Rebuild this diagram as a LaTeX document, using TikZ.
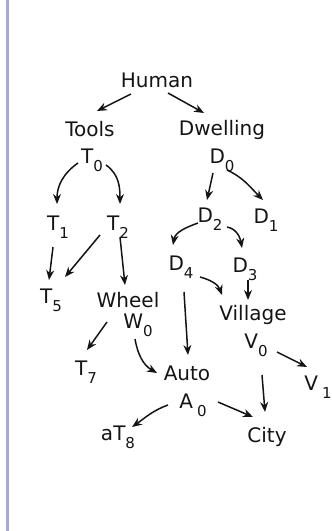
\documentclass[tikz,border=0pt]{standalone}
\usepackage{fontspec}
\setmainfont{DejaVu Sans}
\usetikzlibrary{arrows.meta}
\definecolor{marginblue}{RGB}{168,168,214}
\definecolor{inkgray}{RGB}{20,20,20}
\newcommand{\subidx}[1]{\raisebox{-8pt}{\fontsize{15}{15}\selectfont #1}}

\begin{document}
\begin{tikzpicture}[x=1pt, y=-1pt, >={Stealth[length=10pt,width=8pt]},
    lbl/.style={anchor=base, inner sep=0pt, text=inkgray, font=\fontsize{20}{24}\selectfont},
    link/.style={->, draw=inkgray, line width=1.5pt}]
  \useasboundingbox (0,0) rectangle (332,531);
  \fill[marginblue] (6,0) rectangle (9,531);
  % labels
  \node[lbl] (Human) at (157,87) {Human};
  \node[lbl] (Tools) at (90,136) {Tools};
  \node[lbl] (Dwelling) at (222,135) {Dwelling};
  \node[lbl] (T0) at (92,163) {T\subidx{0}};
  \node[lbl] (D0) at (222,163) {D\subidx{0}};
  \node[lbl] (T1) at (58,230) {T\subidx{1}};
  \node[lbl] (T2) at (118,230) {T\subidx{2}};
  \node[lbl] (D2) at (210,222) {D\subidx{2}};
  \node[lbl] (D1) at (266,223) {D\subidx{1}};
  \node[lbl] (D4) at (181,270) {D\subidx{4}};
  \node[lbl] (D3) at (245,272) {D\subidx{3}};
  \node[lbl] (T5) at (51,303) {T\subidx{5}};
  \node[lbl] (Wheel) at (128,307) {Wheel};
  \node[lbl] (W0) at (138,328) {W\subidx{0}};
  \node[lbl] (Village) at (253,320) {Village};
  \node[lbl] (V0) at (256,348) {V\subidx{0}};
  \node[lbl] (T7) at (86,375) {T\subidx{7}};
  \node[lbl] (Auto) at (187,380) {Auto};
  \node[lbl] (V1) at (318,390) {V\hspace{4pt}\subidx{1}};
  \node[lbl] (A0) at (193,408) {A\hspace{4pt}\subidx{0}};
  \node[lbl] (aT8) at (118,440) {aT\subidx{8}};
  \node[lbl] (City) at (267,442) {City};
  % arrows
  \draw[link] ([shift={(-26,7)}]Human.base) -- ([shift={(7,-25)}]Tools.base);
  \draw[link] ([shift={(11,6)}]Human.base) -- ([shift={(-18,-22)}]Dwelling.base);
  \draw[link] ([shift={(-14,0)}]T0.base) to[out=215,in=90] ([shift={(-1,-26)}]T1.base);
  \draw[link] ([shift={(14,2)}]T0.base) to[out=-35,in=90] ([shift={(2,-26)}]T2.base);
  \draw[link] ([shift={(-9,10)}]D0.base) -- ([shift={(-3,-22)}]D2.base);
  \draw[link] ([shift={(5,7)}]D0.base) to[out=-25,in=135] ([shift={(-3,-23)}]D1.base);
  \draw[link] ([shift={(-12,1)}]D2.base) to[out=200,in=80] ([shift={(-8,-25)}]D4.base);
  \draw[link] ([shift={(17,5)}]D2.base) to[out=-10,in=100] ([shift={(-3,-24)}]D3.base);
  \draw[link] ([shift={(-5,17)}]T1.base) -- ([shift={(-2,-23)}]T5.base);
  \draw[link] ([shift={(-18,5)}]T2.base) -- ([shift={(14,-26)}]T5.base);
  \draw[link] ([shift={(2,7)}]T2.base) -- ([shift={(-3,-22)}]Wheel.base);
  \draw[link] ([shift={(19,7)}]D4.base) to[out=-15,in=110] ([shift={(-31,-25)}]Village.base);
  \draw[link] ([shift={(3,8)}]D3.base) -- ([shift={(-5,-20)}]Village.base);
  \draw[link] ([shift={(3,22)}]D4.base) -- ([shift={(1,-25)}]Auto.base);
  \draw[link] ([shift={(-21,15)}]Wheel.base) -- ([shift={(1,-25)}]T7.base);
  \draw[link] ([shift={(-3,11)}]W0.base) to[out=-80,in=150] ([shift={(-30,-7)}]Auto.base);
  \draw[link] ([shift={(21,4)}]V0.base) -- ([shift={(-11,-23)}]V1.base);
  \draw[link] ([shift={(6,27)}]V0.base) -- ([shift={(-2,-30)}]City.base);
  \draw[link] ([shift={(-25,-3)}]A0.base) to[out=200,in=35] ([shift={(14,-13)}]aT8.base);
  \draw[link] ([shift={(25,-6)}]A0.base) -- ([shift={(-14,-25)}]City.base);
\end{tikzpicture}
\end{document}
